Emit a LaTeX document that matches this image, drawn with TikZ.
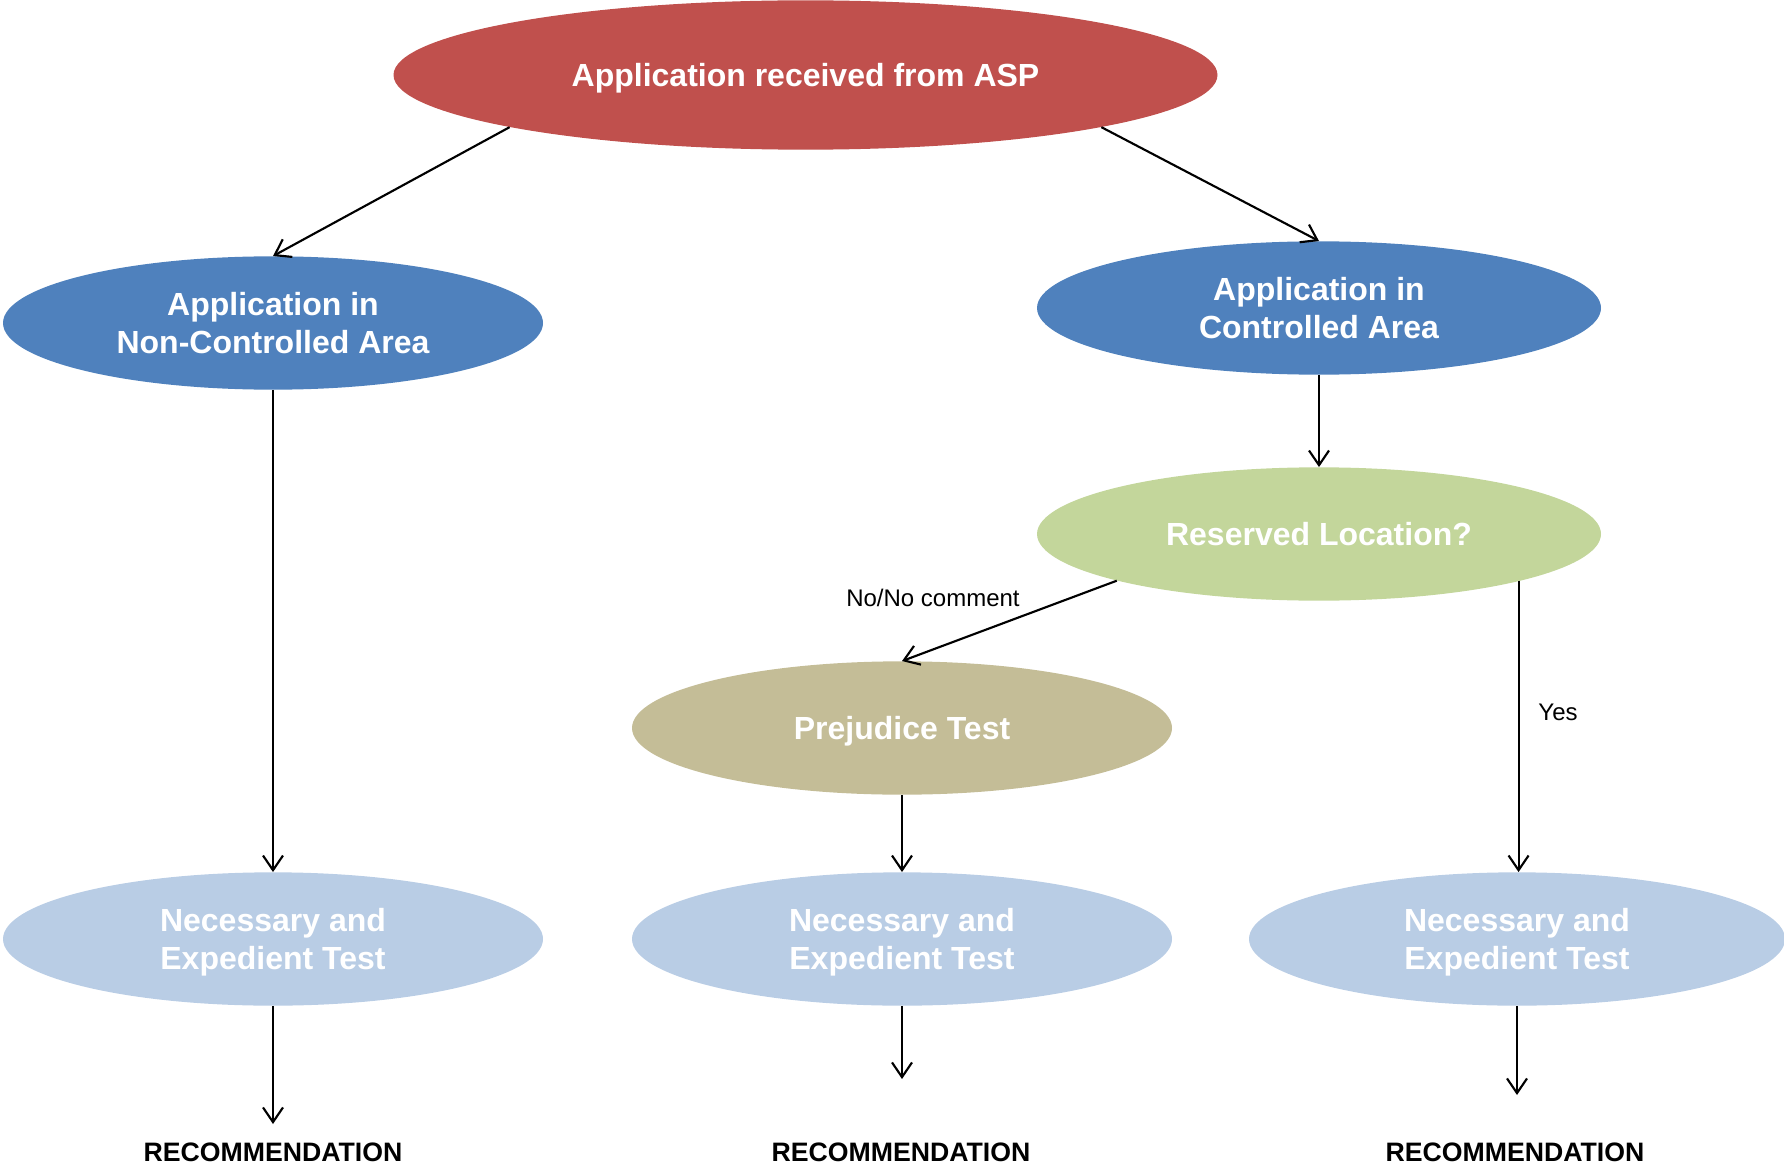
\documentclass[tikz,border=0pt]{standalone}
\usepackage{fontspec}
\setmainfont{Liberation Sans}
\usepackage{tikz}
\usetikzlibrary{shapes,arrows.meta}
\definecolor{aspRed}{HTML}{C0504D}
\definecolor{areaBlue}{HTML}{4F81BD}
\definecolor{reserveGreen}{HTML}{C3D69B}
\definecolor{prejTan}{HTML}{C4BD97}
\definecolor{testBlue}{HTML}{B9CDE5}
\tikzset{>={Straight Barb[length=11pt,width=15pt,line width=1.6pt]}, every edge/.style={draw,
		->,line width=1.6pt}}
\tikzstyle{ovalText}=[ellipse,inner sep=0pt,text=white,align=center,text depth=0pt,font=\bfseries\fontsize{24}{28}\selectfont]
\tikzstyle{startOval}=[ovalText,fill=aspRed,minimum width=618pt,minimum height=112pt]
\tikzstyle{areaOval}=[ovalText,fill=areaBlue,minimum width=405pt,minimum height=100pt]
\tikzstyle{reserveOval}=[ovalText,fill=reserveGreen,minimum width=423pt,minimum height=100pt]
\tikzstyle{prejOval}=[ovalText,fill=prejTan,minimum width=405pt,minimum height=100pt]
\tikzstyle{testOval}=[ovalText,fill=testBlue,minimum width=405pt,minimum height=100pt]
\tikzstyle{recText}=[inner sep=0pt,font=\bfseries\fontsize{20}{24}\selectfont]
\tikzstyle{edgeText}=[inner sep=0pt,font=\fontsize{18}{22}\selectfont]

\begin{document}
\begin{tikzpicture}[x=0.75pt,y=-0.75pt]
	\useasboundingbox (0,0) rectangle (1784,1166);
	\node at (805.5,75) [startOval] (1) {Application received from ASP};
	\node at (273,323) [areaOval] (2) {Application in\\Non-Controlled Area};
	\node at (1319,308) [areaOval,minimum width=423pt] (3) {Application in\\Controlled Area};
	\node at (1319,534) [reserveOval] (4) {Reserved Location?};
	\node at (902,728) [prejOval] (6) {Prejudice Test};
	\node at (273,939) [testOval] (5) {Necessary and\\Expedient Test};
	\node at (902,939) [testOval] (7) {Necessary and\\Expedient Test};
	\node at (1517,939) [testOval,minimum width=402pt] (8) {Necessary and\\Expedient Test};
	\node at (273,1152) [recText] (9) {RECOMMENDATION};
	\node at (901,1152) [recText] (10) {RECOMMENDATION};
	\node at (1515,1152) [recText] (11) {RECOMMENDATION};
	\node at (933,598) [edgeText] (12) {No/No comment};
	\node at (1558,712) [edgeText] (13) {Yes};
	\coordinate (e1) at (273,1124);
	\coordinate (e2) at (902,1079);
	\coordinate (e3) at (1517,1095);
	\draw (1.190) edge (2.north);
	\draw (1.350) edge (3.north);
	\draw (2.south) edge (5.north);
	\draw (3.south) edge (4.north);
	\draw (4.193) edge (6.north);
	\draw ([xshift=-2pt]4.347) edge ([xshift=-2pt]4.347 |- 8.north);
	\draw (6.south) edge (7.north);
	\draw (5.south) edge (e1);
	\draw (7.south) edge (e2);
	\draw (8.south) edge (e3);
\end{tikzpicture}
\end{document}
